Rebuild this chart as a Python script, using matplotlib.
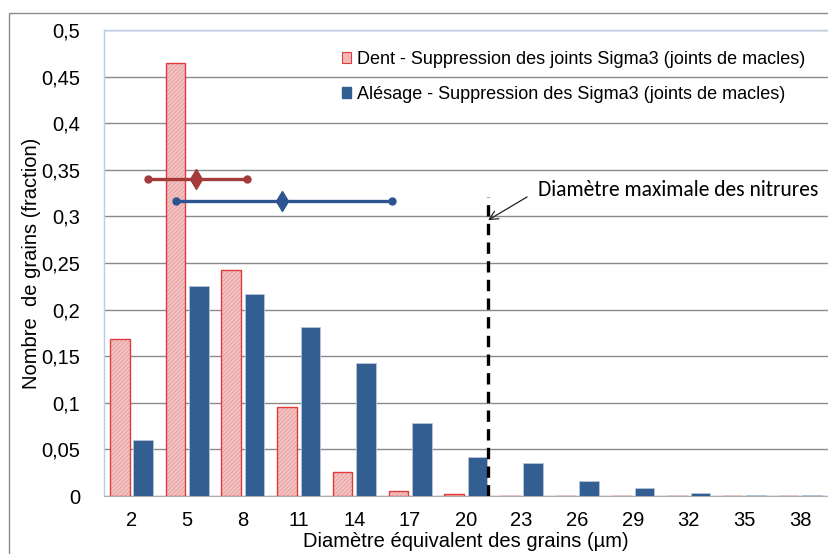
import matplotlib
matplotlib.use("Agg")
import matplotlib.pyplot as plt
from matplotlib.patches import Rectangle, Patch
from matplotlib.ticker import FuncFormatter

diametres = [2, 5, 8, 11, 14, 17, 20, 23, 26, 29, 32, 35, 38]
dent = [0.168, 0.4645, 0.2422, 0.0957, 0.0257, 0.0054, 0.0018, 0, 0, 0, 0, 0, 0]
alesage = [0.0597, 0.225, 0.2172, 0.1808, 0.1425, 0.0779, 0.0418, 0.0354, 0.0157, 0.0086, 0.0036, 0.0012, 0.001]

# horizontal mean / range markers (diameter in µm)
dent_range = [2.9, 5.5, 8.2]
dent_range_y = 0.34
alesage_range = [4.4, 10.1, 16.0]
alesage_range_y = 0.317

nitrure_max = 21.2
nitrure_top = 0.321

label_dent = "Dent - Suppression des joints Sigma3 (joints de macles)"
label_alesage = "Alésage - Suppression des Sigma3 (joints de macles)"
label_nitrure = "Diamètre maximale des nitrures"

plt.rcParams['font.family'] = ['Liberation Sans', 'DejaVu Sans']

fig = plt.figure(figsize=(8.29, 5.54), dpi=100)
W, H = 829, 554
# outer chart border
fig.patches.append(Rectangle((9 / W, -0.1), 2, 1 - 13 / H + 0.1, transform=fig.transFigure,
                             fill=False, edgecolor='#8c8c8c', linewidth=1.0))

ax = fig.add_axes([103.6 / W, (H - 496) / H, (828 - 103.6) / W, (496 - 30) / H])

step = 3.0
bw = step * 0.35
off = step * 0.21
xd = [d - off for d in diametres]
xa = [d + off for d in diametres]

ax.bar(xd, dent, width=bw, facecolor='#f5c6c6', edgecolor='#e9a9a9', hatch='////////',
       linewidth=0, zorder=3)
ax.bar(xd, dent, width=bw, fill=False, edgecolor='#e03c3c', linewidth=1.0, zorder=3.1)
ax.bar(xa, alesage, width=bw, color='#335e92', edgecolor='#b7c6dc', linewidth=0.6, zorder=3)

# legend proxies
h1 = Patch(facecolor='#f2b8b8', edgecolor='#e03c3c', linewidth=0.8)
h2 = Patch(facecolor='#335e92', edgecolor='#335e92')
leg = ax.legend([h1, h2], [label_dent, label_alesage], loc='upper left',
                bbox_to_anchor=(0.306, 0.990), frameon=False, fontsize=13,
                handlelength=0.55, handleheight=0.55, handletextpad=0.3,
                labelspacing=1.0)

# range lines
ax.plot([dent_range[0], dent_range[2]], [dent_range_y] * 2, color='#a23b3a', lw=2.4, zorder=4,
        solid_capstyle='round')
ax.plot([dent_range[0], dent_range[2]], [dent_range_y] * 2, 'o', color='#a23b3a', ms=5, zorder=4)
ax.plot([dent_range[1]], [dent_range_y], 'd', color='#a23b3a', ms=10, zorder=5)

ax.plot([alesage_range[0], alesage_range[2]], [alesage_range_y] * 2, color='#2b5490', lw=2.4,
        zorder=4, solid_capstyle='round')
ax.plot([alesage_range[0], alesage_range[2]], [alesage_range_y] * 2, 'o', color='#2b5490', ms=5,
        zorder=4)
ax.plot([alesage_range[1]], [alesage_range_y], 'd', color='#2b5490', ms=10, zorder=5)

# dashed line
ax.plot([nitrure_max, nitrure_max], [0, nitrure_top], color='black', lw=2.4,
        linestyle=(0, (3.4, 2.2)), zorder=6)
ax.annotate(label_nitrure, xy=(nitrure_max, 0.296),
            xytext=(23.9, 0.328), textcoords='data',
            fontsize=15.5, family=['Carlito', 'Lato', 'DejaVu Sans'], va='center', ha='left',
            arrowprops=dict(arrowstyle='->', color='#222222', lw=0.9, shrinkA=7, shrinkB=0,
                            relpos=(0, 0.5)))

ax.set_xlim(0.5, 39.5)
ax.set_ylim(0, 0.5)
ax.set_xticks(diametres)
ax.set_xticklabels([str(d) for d in diametres])
yt = [i * 0.05 for i in range(11)]
ax.set_yticks(yt)
ax.yaxis.set_major_formatter(FuncFormatter(lambda v, p: ('%g' % round(v, 2)).replace('.', ',')))
ax.tick_params(axis='both', length=0, labelsize=14.5)
ax.tick_params(axis='y', pad=17)
ax.tick_params(axis='x', pad=11)
ax.grid(axis='y', color='#8a8a8a', linewidth=1.0, zorder=0)
ax.set_axisbelow(True)
for s in ['left', 'top']:
    ax.spines[s].set_color('#b9cde5')
    ax.spines[s].set_linewidth(1.0)
ax.spines['right'].set_visible(False)
ax.spines['bottom'].set_color('#b0b0b0')

ax.set_xlabel("Diamètre équivalent des grains (µm)", fontsize=14.5, labelpad=1.5)
ax.set_ylabel("Nombre  de grains (fraction)", fontsize=14.5, labelpad=0)

fig.savefig("out.png", dpi=100)
